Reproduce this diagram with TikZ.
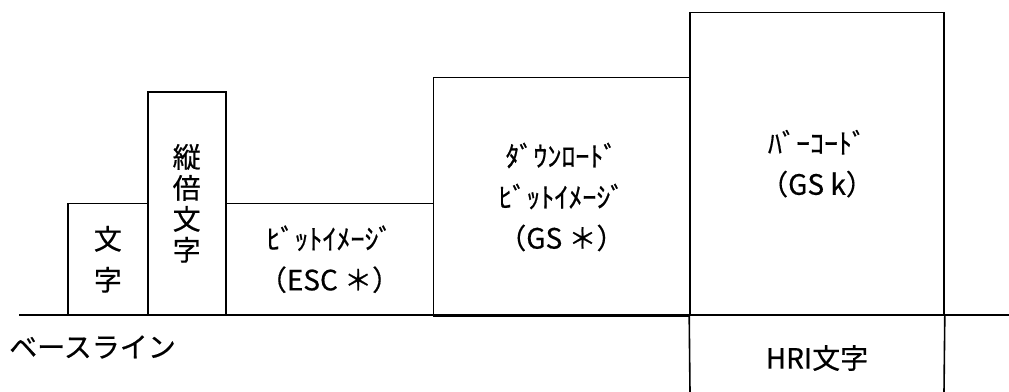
\documentclass[tikz,border=0pt]{standalone}
\usepackage{fontspec}
\newfontfamily\jp[FakeBold=0.5]{Noto Sans CJK JP}
\begin{document}
\begin{tikzpicture}[x=1pt,y=-1pt,
  boxs/.style={draw,line width=1.6pt,rectangle,inner sep=0pt,align=center,
    font=\jp\fontsize{28}{41}\selectfont},
  lbl/.style={inner sep=0pt,align=center,font=\jp\fontsize{28}{41}\selectfont},
  edge/.style={line width=1.6pt}]
\useasboundingbox (0,0) rectangle (1009,391);
\node[boxs,minimum width=79.7pt,minimum height=111.5pt] (A) at (107.85,259.25) {文\\字};
\node[boxs,minimum width=78pt,minimum height=223.3pt,font=\jp\fontsize{28}{31}\selectfont] (B) at (186.7,203.35) {縦\\倍\\文\\字};
\node[boxs,minimum width=207.6pt,minimum height=111.5pt] (C) at (329.5,259.25) {ﾋﾞｯﾄｲﾒｰｼﾞ\\（ESC ＊）};
\node[boxs,minimum width=256.2pt,minimum height=239.3pt] (D) at (561.4,197) {ﾀﾞｳﾝﾛｰﾄﾞ\\ﾋﾞｯﾄｲﾒｰｼﾞ\\（GS ＊）};
\node[boxs,minimum width=254pt,minimum height=302.7pt] (E) at (817,163.65) {ﾊﾞｰｺｰﾄﾞ\\（GS k）};
\coordinate (hl) at (690,392);
\coordinate (hr) at (944,392);
\draw[edge] (E.south west) -- (hl);
\draw[edge] (E.south east) -- (hr);
\node[lbl] (H) at (817,358) {HRI文字};
\coordinate (b0) at (19,315);
\coordinate (b1) at (1009,315);
\draw[edge] (b0) -- (b1);
\node[lbl,anchor=west] (L) at (9,347) {ベースライン};
\end{tikzpicture}
\end{document}
